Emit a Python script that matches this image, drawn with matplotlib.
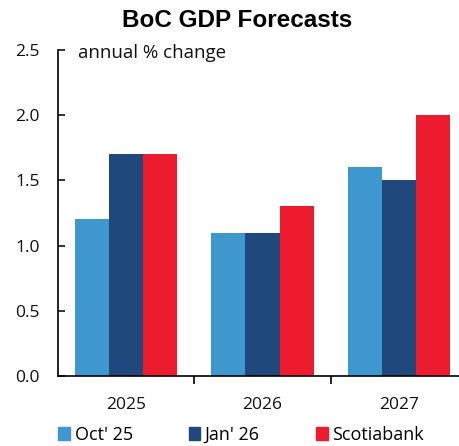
import numpy as np
import matplotlib.pyplot as plt
from matplotlib.patches import Patch

years = ["2025", "2026", "2027"]
series = ["Oct' 25", "Jan' 26", "Scotiabank"]
oct25 = [1.2, 1.1, 1.6]
jan26 = [1.7, 1.1, 1.5]
scotia = [1.7, 1.3, 2.0]
colors = ["#3E97CD", "#1F497D", "#EC1C2E"]

plt.rcParams['font.family'] = ['Open Sans', 'DejaVu Sans']

fig = plt.figure(figsize=(4.59, 4.46), dpi=100)
ax = fig.add_axes([0.126, 0.157, 0.874, 0.731])

x = np.arange(len(years))
w = 0.25
for i, vals in enumerate([oct25, jan26, scotia]):
    ax.bar(x + (i - 1) * w, vals, width=w, color=colors[i], label=series[i])

ax.set_xlim(-0.5, 2.44)
ax.set_ylim(0, 2.5)
ax.set_yticks(np.arange(0, 2.51, 0.5))
ax.set_yticklabels([f"{v:.1f}" for v in np.arange(0, 2.51, 0.5)])
ax.set_xticks(x)
ax.set_xticklabels(years)
ax.set_xticks([0.5, 1.5], minor=True)

for s in ["top", "right"]:
    ax.spines[s].set_visible(False)
ax.spines["left"].set_linewidth(1.2)
ax.spines["bottom"].set_linewidth(1.2)

ax.tick_params(axis="y", direction="in", length=5, width=1.2, pad=13, labelsize=12.5, colors="#111111")
ax.tick_params(axis="x", which="major", length=0, pad=15, labelsize=12.5, colors="#111111")
ax.tick_params(axis="x", which="minor", direction="out", length=6, width=1.2)

ax.text(0.05, 0.99, "annual % change", transform=ax.transAxes, fontsize=13.5,
        va="center", ha="left", color="#111111")

fig.text(0.517, 0.955, "BoC GDP Forecasts", family="Liberation Sans", fontweight="bold",
         fontsize=17.5, ha="center", va="center")

handles = [Patch(color=c) for c in colors]
fig.legend(handles, series, loc="center", bbox_to_anchor=(0.525, 0.025), ncol=3,
           frameon=False, fontsize=13, handlelength=0.65, handleheight=0.65,
           handletextpad=0.25, columnspacing=3.1, borderaxespad=0)

fig.savefig("out.png", dpi=100)
